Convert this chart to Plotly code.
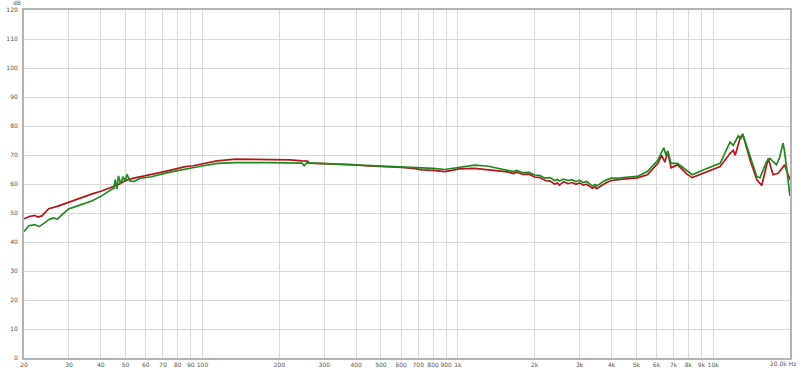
import plotly.graph_objects as go
import numpy as np

# ---- data ----
freq_red = [20, 21, 22, 22.7, 23.5, 25, 27, 29.9, 32, 34.8, 37, 40.3, 43, 46.9, 49, 51.2, 55, 63.2, 68, 73.7,
            80, 85.6, 92, 100, 114, 135, 183, 220, 245, 258, 262, 290, 333, 400, 445, 520, 604, 680, 723, 800,
            889, 960, 1007, 1163, 1300, 1566, 1650, 1700, 1800, 1900, 2000, 2100, 2200, 2300, 2400, 2452, 2500,
            2600, 2700, 2800, 2904, 3000, 3100, 3200, 3366, 3450, 3500, 3600, 3714, 3850, 4000,
            4329, 4700, 5045, 5526, 6070, 6290, 6470, 6640, 6840, 7255, 7900, 8285, 9190, 10650, 11640, 11990,
            12200, 12780, 13060, 13960, 14820, 15500, 16430, 17180, 17970, 19060, 19660, 20000]
db_red = [48.0, 48.8, 49.2, 48.6, 49.0, 51.5, 52.3, 53.7, 54.6, 55.9, 56.6, 57.6, 58.6, 59.8, 60.8, 61.5, 62.2, 63.2, 63.9, 64.6,
          65.4, 66.0, 66.3, 67.0, 68.0, 68.6, 68.5, 68.3, 68.0, 67.9, 67.2, 67.1, 66.9, 66.6, 66.2, 66.0, 65.7, 65.3, 64.9, 64.7,
          64.3, 64.8, 65.2, 65.4, 65.0, 64.2, 63.6, 64.1, 63.3, 63.4, 62.4, 62.2, 61.2, 61.0, 59.9, 60.4, 59.6,
          60.8, 60.1, 60.5, 59.9, 60.4, 59.6, 59.9, 58.5, 59.0, 58.4, 59.2, 59.8, 60.6, 61.2,
          61.6, 61.8, 62.1, 63.2, 67.1, 69.9, 67.5, 71.2, 65.6, 66.6, 63.4, 62.2, 63.7, 66.0, 70.5, 71.6,
          69.9, 76.1, 77.2, 68.2, 61.5, 59.5, 68.8, 63.2, 63.7, 66.6, 63.2, 61.5]

freq_green = [20, 20.9, 22, 22.9, 24, 25.1, 26, 27, 28.5, 29.9, 32, 34.8, 37, 40.3, 42, 44.1, 45, 45.5, 46.2, 46.9,
              47.8, 48.8, 49.8, 50.6, 52, 54, 57, 63.2, 73.7, 85.6, 99.5, 114.5, 135, 183, 245, 250, 256, 290, 333,
              445, 604, 723, 800, 889, 960, 1007, 1163, 1300, 1566, 1650, 1700, 1800, 1900, 2000, 2100, 2200, 2300,
              2400, 2452, 2500, 2600, 2700, 2800, 2904, 3000, 3100, 3200, 3366, 3450, 3500, 3600, 3714, 3850, 4000,
              4329, 5045, 5526, 6070, 6404, 6540, 6640, 6840, 7255, 7927, 8285, 9190, 10650, 11640,
              11990, 12550, 12830, 13060, 13960, 14820, 15260, 16190, 16680, 17710, 18230, 18780, 19060, 19360, 19990]
db_green = [43.6, 45.6, 46.0, 45.3, 46.5, 47.8, 48.3, 47.9, 49.8, 51.4, 52.3, 53.3, 54.2, 55.9, 57.0, 58.2, 58.5, 61.5, 58.3, 62.8,
            60.0, 62.5, 61.0, 63.3, 61.0, 60.9, 62.0, 62.5, 64.0, 65.2, 66.2, 67.1, 67.4, 67.4, 67.2, 66.3, 67.3, 67.1, 66.9,
            66.3, 65.9, 65.6, 65.4, 65.0, 65.5, 65.7, 66.5, 66.2, 64.9, 64.3, 64.7, 63.9, 64.0, 63.1, 62.9, 62.0, 62.2,
            61.1, 61.6, 61.0, 61.7, 61.2, 61.5, 60.8, 61.3, 60.5, 60.9, 59.3, 59.8, 59.4, 60.0, 60.9, 61.5, 62.0,
            62.1, 62.6, 64.3, 68.2, 72.5, 69.9, 71.4, 67.1, 67.1, 64.3, 63.2, 64.9, 67.1, 74.4,
            73.3, 76.6, 75.5, 77.2, 69.3, 62.6, 62.1, 67.7, 68.8, 66.6, 69.3, 74.1, 71.0, 66.6, 55.9]

x_tickvals = [20, 30, 40, 50, 60, 70, 80, 90, 100, 200, 300, 400, 500, 600, 700, 800, 900, 1000,
              2000, 3000, 4000, 5000, 6000, 7000, 8000, 9000, 10000, 20000]
x_ticktext = ["20", "30", "40", "50", "60", "70", "80", "90", "100", "200", "300", "400", "500", "600", "700",
              "800", "900", "1k", "2k", "3k", "4k", "5k", "6k", "7k", "8k", "9k", "10k", ""]
y_tickvals = list(range(0, 121, 10))

fig = go.Figure()
fig.add_trace(go.Scatter(x=freq_red, y=db_red, mode="lines",
                         line=dict(color="#b3161b", width=1.7), showlegend=False))
fig.add_trace(go.Scatter(x=freq_green, y=db_green, mode="lines",
                         line=dict(color="#1f8a1f", width=1.7), showlegend=False))

tickfont = dict(family="DejaVu Sans", size=6, color="#555555")
fig.update_layout(
    width=800, height=374,
    margin=dict(l=20, r=10, t=6, b=11),
    paper_bgcolor="white", plot_bgcolor="white",
    xaxis=dict(type="log", range=[np.log10(20), np.log10(20000)],
               tickvals=x_tickvals, ticktext=x_ticktext, tickfont=tickfont, tickangle=0,
               showgrid=True, gridcolor="#d9d9d9", gridwidth=1, zeroline=False,
               showline=True, linecolor="#b4b4b4", linewidth=2, mirror=True,
               ticks="", ticklabelstandoff=0),
    yaxis=dict(range=[0, 120], tickvals=y_tickvals, tickfont=tickfont,
               showgrid=True, gridcolor="#d9d9d9", gridwidth=1, zeroline=False,
               showline=True, linecolor="#b4b4b4", linewidth=2, mirror=True,
               ticks="", ticklabelstandoff=3),
    annotations=[
        dict(text="dB", xref="paper", yref="paper", x=-7/770, y=1 + 3.5/357,
             xanchor="center", yanchor="bottom", showarrow=False, font=tickfont,
             borderpad=0),
        dict(text="20.0k Hz", xref="paper", yref="paper", x=1 + 8/770, y=-5.5/357,
             xanchor="right", yanchor="middle", showarrow=False, font=tickfont),
    ],
)

fig.write_html("out.html")
